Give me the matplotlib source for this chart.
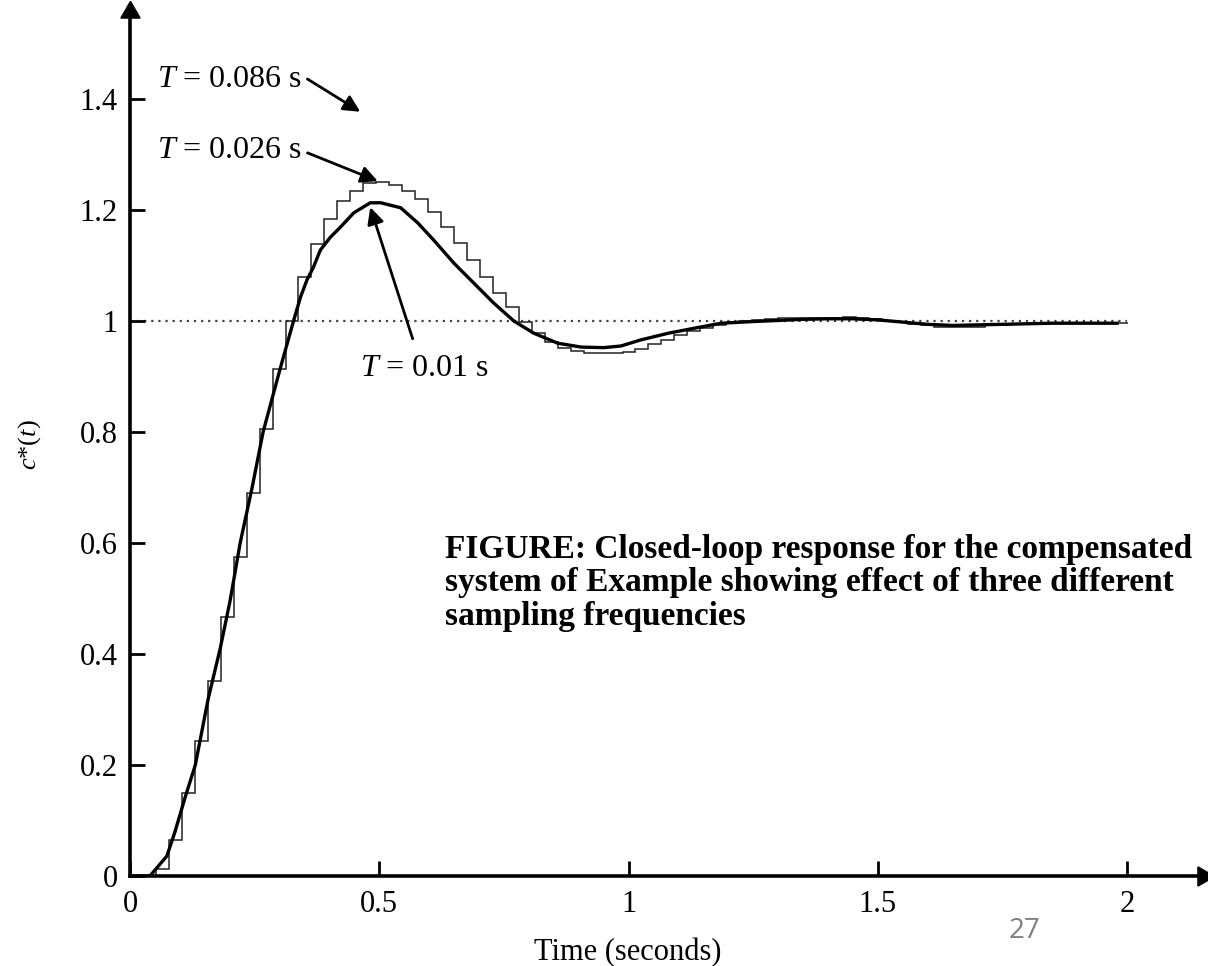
import numpy as np
import matplotlib
matplotlib.use("Agg")
import matplotlib.pyplot as plt

# ---------------- data ----------------
# T = 0.01 s response (nearly continuous)
t_fast = [0.0, 0.04, 0.074, 0.09, 0.11, 0.131, 0.157, 0.181, 0.201, 0.221, 0.245,
          0.267, 0.30, 0.328, 0.342, 0.355, 0.368, 0.382, 0.402, 0.422, 0.449,
          0.482, 0.503, 0.543, 0.577, 0.609, 0.65, 0.69, 0.73, 0.77, 0.81, 0.858,
          0.905, 0.95, 0.985, 1.025, 1.08, 1.132, 1.186, 1.25, 1.30, 1.35, 1.40,
          1.45, 1.50, 1.55, 1.60, 1.65, 1.70, 1.75, 1.80, 1.85, 1.90, 1.98]
c_fast = [0.0, 0.0, 0.036, 0.079, 0.14, 0.2, 0.32, 0.41, 0.497, 0.6, 0.70,
          0.8, 0.91, 1.0, 1.043, 1.074, 1.097, 1.128, 1.151, 1.169, 1.195,
          1.213, 1.213, 1.204, 1.177, 1.146, 1.104, 1.068, 1.032, 1.0, 0.978, 0.96,
          0.953, 0.952, 0.955, 0.966, 0.978, 0.987, 0.996, 0.999, 1.001, 1.003, 1.004,
          1.004, 1.002, 0.998, 0.994, 0.992, 0.993, 0.994, 0.995, 0.996, 0.996, 0.996]

# T = 0.026 s sampled response (held values, one per sampling period)
T_mid = 0.026
c_mid = [0.0, 0.0, 0.012, 0.065, 0.15, 0.243, 0.351, 0.467, 0.575, 0.69,
         0.805, 0.913, 1.0, 1.08, 1.139, 1.184, 1.216, 1.234, 1.248, 1.25,
         1.245, 1.235, 1.22, 1.196, 1.17, 1.14, 1.11, 1.08, 1.05, 1.025,
         0.998, 0.978, 0.962, 0.952, 0.946, 0.943, 0.942, 0.942, 0.944, 0.95,
         0.958, 0.966, 0.974, 0.982, 0.988, 0.993, 0.997, 1.0, 1.002, 1.004,
         1.005, 1.006, 1.006, 1.006, 1.006, 1.008, 1.005, 1.003, 1.0, 0.998,
         0.995, 0.992, 0.99, 0.989, 0.989, 0.99, 0.992, 0.993, 0.994, 0.995,
         0.996, 0.996, 0.997, 0.997, 0.997, 0.997, 0.997]

ref_level = 1.0
ref_span = [0.015, 2.0]

x_ticks = [0, 0.5, 1, 1.5, 2]
x_ticklabels = ["0", "0.5", "1", "1.5", "2"]
y_ticks = [0, 0.2, 0.4, 0.6, 0.8, 1.0, 1.2, 1.4]
y_ticklabels = ["0", "0.2", "0.4", "0.6", "0.8", "1", "1.2", "1.4"]

caption = ("FIGURE: Closed-loop response for the compensated\n"
           "system of Example showing effect of three different\n"
           "sampling frequencies")

# ---------------- figure ----------------
plt.rcParams["font.family"] = ["Liberation Serif", "DejaVu Serif"]
plt.rcParams["mathtext.fontset"] = "custom"
plt.rcParams["mathtext.rm"] = "Liberation Serif"
plt.rcParams["mathtext.it"] = "Liberation Serif:italic"

W, H = 1208, 966
fig = plt.figure(figsize=(W / 100, H / 100), dpi=100)
x0, y0 = 130, 876          # pixel position of origin
x_right, y_top = 1203, 12  # arrow tips
px_per_x = (1127 - 130) / 2.0
px_per_y = 555.0
ax = fig.add_axes([x0 / W, 1 - y0 / H, (x_right - x0) / W, (y0 - y_top) / H])
ax.set_xlim(0, (x_right - x0) / px_per_x)
ax.set_ylim(0, (y0 - y_top) / px_per_y)

# reference line
ax.plot(ref_span, [ref_level, ref_level], linestyle=(0, (1, 2.2)), color="#444444",
        lw=1.6, zorder=1)

# T = 0.026 s staircase
edges = np.arange(len(c_mid) + 1) * T_mid
ax.stairs(c_mid, edges, color="#222222", lw=1.1, baseline=None, zorder=2)

# T = 0.01 s response
ax.plot(t_fast, c_fast, color="black", lw=2.4, zorder=3, solid_joinstyle="round")

# spines / axes
for s in ["top", "right"]:
    ax.spines[s].set_visible(False)
for s in ["left", "bottom"]:
    ax.spines[s].set_linewidth(2.6)
ax.plot(1, 0, marker=(3, 0, -90), ms=16, color="black", transform=ax.transAxes,
        clip_on=False)
ax.plot(0, 1, marker=(3, 0, 0), ms=16, color="black", transform=ax.transAxes,
        clip_on=False)

ax.set_xticks(x_ticks)
ax.set_xticklabels(x_ticklabels)
ax.set_yticks(y_ticks)
ax.set_yticklabels(y_ticklabels)
ax.tick_params(axis="both", direction="in", length=11, width=2.0, labelsize=22)
ax.tick_params(axis="x", pad=10)
ax.tick_params(axis="y", pad=9)

fig.text(30 / W, 1 - 445 / H, r"$c$*($t$)", rotation=90, ha="center", va="center",
         fontsize=19)
fig.text(628 / W, 1 - 953 / H, "Time (seconds)", ha="center", va="center",
         fontsize=22)

# annotations
arrow_kw = dict(arrowstyle="-|>", color="black", lw=2.0, mutation_scale=25,
                shrinkA=0, shrinkB=0)
ax.annotate(r"$T$ = 0.086 s", xy=(0.462, 1.377), xytext=(0.054, 1.436),
            fontsize=23, va="center", ha="left")
ax.annotate("", xy=(0.462, 1.377), xytext=(0.356, 1.436), arrowprops=arrow_kw)
ax.annotate(r"$T$ = 0.026 s", xy=(0.497, 1.25), xytext=(0.054, 1.307),
            fontsize=23, va="center", ha="left")
ax.annotate("", xy=(0.497, 1.252), xytext=(0.356, 1.303), arrowprops=arrow_kw)
ax.annotate(r"$T$ = 0.01 s", xy=(0.482, 1.202), xytext=(0.59, 0.915),
            fontsize=23, va="center", ha="center")
ax.annotate("", xy=(0.482, 1.205), xytext=(0.567, 0.968), arrowprops=arrow_kw)

fig.text(445 / W, 1 - 534 / H, caption, ha="left", va="top", fontsize=24,
         fontweight="bold", linespacing=1.1)

fig.text(1024 / W, 1 - 931 / H, "27", ha="center", va="center", fontsize=20,
         color="#7f7f7f", family=["Open Sans", "DejaVu Sans"])

fig.savefig("out.png", dpi=100)
